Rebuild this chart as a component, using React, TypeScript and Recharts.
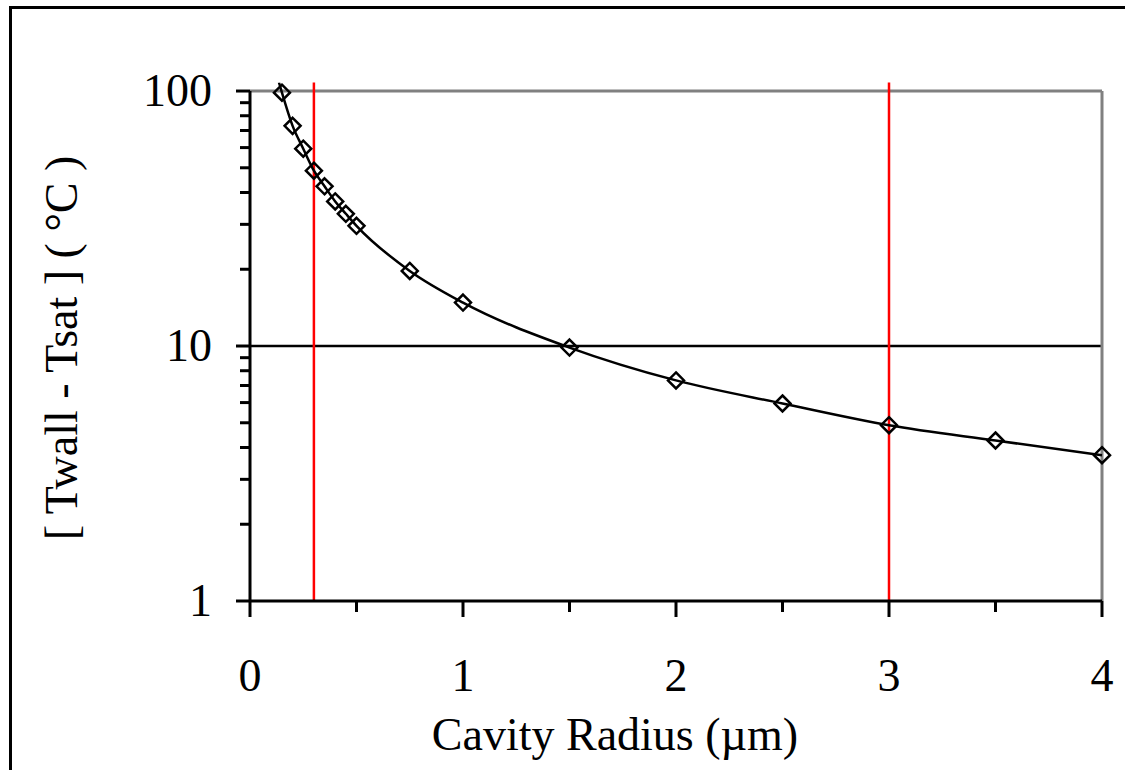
import React from 'react';
import {
  ComposedChart,
  Line,
  Scatter,
  XAxis,
  YAxis,
  ReferenceLine,
} from 'recharts';

// Cavity radius (µm) vs wall superheat
const radius = [0.15, 0.2, 0.25, 0.3, 0.35, 0.4, 0.45, 0.5, 0.75, 1, 1.5, 2, 2.5, 3, 3.5, 4];
const superheat = [98.5, 73, 59.4, 48.7, 42.3, 36.9, 33, 29.6, 19.7, 14.8, 9.86, 7.33, 5.95, 4.89, 4.26, 3.73];

// the smoothed curve starts a little above the first marker
const curveStartX = [0.136];
const curveStartY = [108];

const xTicks = [0, 0.5, 1, 1.5, 2, 2.5, 3, 3.5, 4];
const xMajor = [0, 1, 2, 3, 4];
const yTicks = [1, 2, 3, 4, 5, 6, 7, 8, 9, 10, 20, 30, 40, 50, 60, 70, 80, 90, 100];
const yMajor = [1, 10, 100];
const markerLines = [0.3, 3];

const FONT = '"Liberation Serif", "Times New Roman", serif';
const FS = 46;

const points = radius.map((x, i) => ({ x, y: superheat[i] }));
const curve = [
  ...curveStartX.map((x, i) => ({ x, y: curveStartY[i] })),
  ...points,
];

function YTick(props: any) {
  const { x, y, payload } = props;
  const major = yMajor.includes(payload.value);
  return (
    <g>
      <line x1={x} x2={x - (major ? 14 : 10)} y1={y} y2={y} stroke="#000" strokeWidth={3} />
      {major && (
        <text
          x={x - 38}
          y={y + 15}
          textAnchor="end"
          fontFamily={FONT}
          fontSize={FS}
          fill="#000"
        >
          {payload.value}
        </text>
      )}
    </g>
  );
}

function XTick(props: any) {
  const { x, y, payload } = props;
  const major = xMajor.includes(payload.value);
  return (
    <g>
      <line x1={x} x2={x} y1={y} y2={y + (major ? 16 : 11)} stroke="#000" strokeWidth={3} />
      {major && (
        <text x={x} y={y + 90} textAnchor="middle" fontFamily={FONT} fontSize={FS} fill="#000">
          {payload.value}
        </text>
      )}
    </g>
  );
}

function Diamond(props: any) {
  const { cx, cy } = props;
  const r = 8;
  return (
    <polygon
      points={`${cx},${cy - r} ${cx + r},${cy} ${cx},${cy + r} ${cx - r},${cy}`}
      fill="none"
      stroke="#000"
      strokeWidth={2.5}
    />
  );
}

function XTitle() {
  return (
    <text x={615} y={750} textAnchor="middle" fontFamily={FONT} fontSize={FS} fill="#000">
      Cavity Radius (µm)
    </text>
  );
}

function YTitle() {
  return (
    <text
      x={77}
      y={348}
      transform="rotate(-90 77 348)"
      textAnchor="middle"
      fontFamily={FONT}
      fontSize={FS}
      fill="#000"
    >
      [ Twall - Tsat ] ( °C )
    </text>
  );
}

export default function App() {
  return (
    <div
      style={{
        position: 'absolute',
        left: 0,
        top: 0,
        width: 1125,
        height: 770,
        overflow: 'hidden',
        background: '#fff',
      }}
    >
      <div
        style={{
          position: 'absolute',
          left: 9,
          top: 6,
          width: 1300,
          height: 900,
          borderLeft: '3px solid #000',
          borderTop: '3px solid #000',
        }}
      />
      <div style={{ position: 'absolute', left: 0, top: 0 }}>
        <ComposedChart
          width={1125}
          height={770}
          margin={{ top: 82.5, right: 23, left: 50, bottom: 109 }}
        >
          <XAxis
            dataKey="x"
            type="number"
            domain={[0, 4]}
            ticks={xTicks}
            interval={0}
            tickSize={0}
            tickMargin={0}
            tick={<XTick />}
            axisLine={{ stroke: '#000', strokeWidth: 3 }}
            tickLine={false}
            height={60}
            label={<XTitle />}
          />
          <YAxis
            type="number"
            scale="log"
            domain={[1, 108]}
            allowDataOverflow
            ticks={yTicks}
            interval={0}
            tickSize={0}
            tickMargin={0}
            tick={<YTick />}
            axisLine={false}
            tickLine={false}
            width={200}
            label={<YTitle />}
          />
          <ReferenceLine y={10} stroke="#000" strokeWidth={2.5} />
          <ReferenceLine
            segment={[{ x: 0, y: 100 }, { x: 4, y: 100 }]}
            stroke="#808080"
            strokeWidth={3}
          />
          <ReferenceLine
            segment={[{ x: 4, y: 1 }, { x: 4, y: 100 }]}
            stroke="#808080"
            strokeWidth={3}
          />
          <ReferenceLine
            segment={[{ x: 0, y: 1 }, { x: 0, y: 100 }]}
            stroke="#000"
            strokeWidth={3}
          />
          {markerLines.map((v) => (
            <ReferenceLine key={v} x={v} stroke="#ff0000" strokeWidth={2.5} />
          ))}
          <Line
            data={curve}
            dataKey="y"
            type="monotone"
            stroke="#000"
            strokeWidth={2.5}
            dot={false}
            activeDot={false}
            isAnimationActive={false}
          />
          <Scatter data={points} dataKey="y" shape={<Diamond />} isAnimationActive={false} />
        </ComposedChart>
      </div>
    </div>
  );
}
